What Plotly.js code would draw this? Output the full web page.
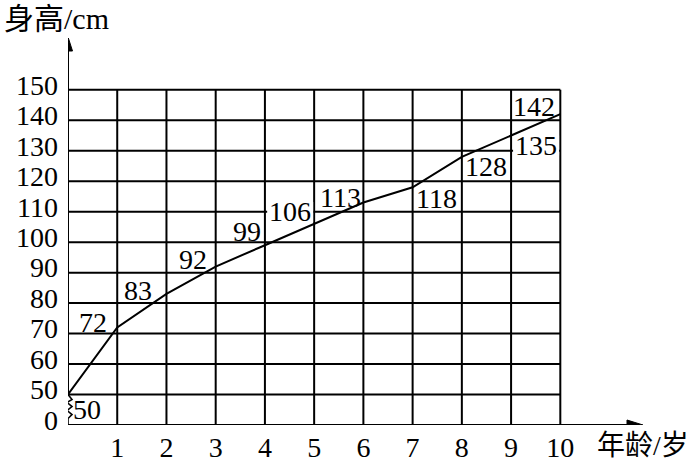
<!DOCTYPE html>
<html>
<head>
<meta charset="utf-8">
<script src="https://cdn.plot.ly/plotly-3.0.1.min.js"></script>
<style>html,body{margin:0;padding:0;background:#fff;}#chart{width:693px;height:466px;}</style>
</head>
<body>
<div id="chart"></div>
<script>
// ---- data ----
const ages = [0, 1, 2, 3, 4, 5, 6, 7, 8, 9, 10];
const heights = [50, 72, 83, 92, 99, 106, 113, 118, 128, 135, 142];
const xTickVals = [1, 2, 3, 4, 5, 6, 7, 8, 9, 10];
const xTickText = ['1', '2', '3', '4', '5', '6', '7', '8', '9', '10'];
const yTickVals = [40, 50, 60, 70, 80, 90, 100, 110, 120, 130, 140, 150];
const yTickText = ['0', '50', '60', '70', '80', '90', '100', '110', '120', '130', '140', '150'];
const xTitle = '年龄/岁';
const yTitle = '身高/cm';

// ---- label placement (pixel offsets from each point: right, down) and white masking ----
const labelOffsets = [[19, 15], [-24, -5], [-28, -3], [-23, -7], [-18, -14], [-24, -12],
                      [-23, -5], [24, 11], [24, 10], [25, 10], [-26, -8]];
const labelMask = [false, false, false, false, false, true, false, false, false, true, false];

// ---- layout geometry ----
const W = 693, H = 466;
const M = {l: 68, r: 49, t: 38, b: 41, pad: 0};
const xRange = [0, 11.7], yRange = [40, 167];
const pw = W - M.l - M.r, ph = H - M.t - M.b;
const dx = p => p / pw * (xRange[1] - xRange[0]);
const dy = p => p / ph * (yRange[1] - yRange[0]);
const serif = '"Liberation Serif", "Times New Roman", serif';
const cjk = '"Liberation Serif", "Noto Sans CJK SC", sans-serif';
const lw = 2;

const xMax = xTickVals[xTickVals.length - 1];
const yMin = yTickVals[1], yMax = yTickVals[yTickVals.length - 1];

const shapes = [];
// horizontal grid lines
yTickVals.slice(1).forEach(v => shapes.push({type: 'line', xref: 'x', yref: 'y', x0: 0, x1: xMax, y0: v, y1: v, line: {color: '#000', width: lw}, layer: 'below'}));
// vertical grid lines
xTickVals.forEach(v => shapes.push({type: 'line', xref: 'x', yref: 'y', x0: v, x1: v, y0: yRange[0], y1: yMax, line: {color: '#000', width: lw}, layer: 'below'}));
// white masks behind some labels (under the data line, over the grid)
heights.forEach((h, i) => {
  if (!labelMask[i]) return;
  const [ox, oy] = labelOffsets[i];
  shapes.push({type: 'rect', xref: 'x', yref: 'y', layer: 'below',
    x0: ages[i] + dx(ox - 23), x1: ages[i] + dx(ox + 23),
    y0: h - dy(oy + 10), y1: h - dy(oy - 10),
    fillcolor: '#fff', line: {width: 0}});
});
// y axis line
shapes.push({type: 'line', xref: 'x', yref: 'y', x0: 0, x1: 0, y0: yMin, y1: yRange[1] - dy(8), line: {color: '#000', width: lw}});
// x axis line
shapes.push({type: 'line', xref: 'x', yref: 'y', x0: 0, x1: xRange[1] - dx(8), y0: yRange[0], y1: yRange[0], line: {color: '#000', width: lw}});
// arrow heads
const yt = yRange[1] + dy(1);
shapes.push({type: 'path', xref: 'x', yref: 'y', path: `M0,${yt} L${-dx(4.5)},${yt - dy(14)} L${dx(4.5)},${yt - dy(14)} Z`, fillcolor: '#000', line: {color: '#000', width: 1}});
const xt = xRange[1] - dx(1);
shapes.push({type: 'path', xref: 'x', yref: 'y', path: `M${xt},${yRange[0]} L${xt - dx(16)},${yRange[0] + dy(5)} L${xt - dx(16)},${yRange[0] - dy(5)} Z`, fillcolor: '#000', line: {color: '#000', width: 1}});
// axis break zigzag (pixel offsets: right, down from the 50 mark)
const zig = [[0, 0], [4, 5], [-1, 8], [4, 12], [-1, 16], [4, 20], [0, 24], [0, 30]];
shapes.push({type: 'path', xref: 'x', yref: 'y',
  path: zig.map((p, i) => (i ? 'L' : 'M') + dx(p[0]) + ',' + (yMin - dy(p[1]))).join(' '),
  line: {color: '#000', width: 1.6}});

const annotations = heights.map((h, i) => ({
  x: ages[i], y: h, xref: 'x', yref: 'y', text: String(h), showarrow: false,
  xanchor: 'center', yanchor: 'middle',
  xshift: labelOffsets[i][0], yshift: -labelOffsets[i][1],
  borderpad: 0,
  font: {family: serif, size: 28, color: '#000'}
}));
annotations.push({xref: 'paper', yref: 'paper', x: (2 - M.l) / pw, y: (H - M.b) / ph,
  xanchor: 'left', yanchor: 'top', text: yTitle, showarrow: false,
  font: {family: cjk, size: 30, color: '#000'}});
annotations.push({xref: 'paper', yref: 'paper', x: (595 - M.l) / pw, y: (H - M.b - 445) / ph,
  xanchor: 'left', yanchor: 'middle', text: xTitle, showarrow: false,
  font: {family: cjk, size: 28, color: '#000'}});

const trace = {
  x: ages, y: heights, type: 'scatter', mode: 'lines',
  line: {color: '#000', width: lw}, cliponaxis: false, hoverinfo: 'skip'
};

const layout = {
  width: W, height: H, margin: M,
  paper_bgcolor: '#fff', plot_bgcolor: '#fff', showlegend: false,
  xaxis: {range: xRange, showgrid: false, zeroline: false, showline: false, ticks: '',
    tickmode: 'array', tickvals: xTickVals, ticktext: xTickText, ticklabelstandoff: 3,
    tickfont: {family: serif, size: 28, color: '#000'}, fixedrange: true},
  yaxis: {range: yRange, showgrid: false, zeroline: false, showline: false, ticks: '',
    tickmode: 'array', tickvals: yTickVals, ticktext: yTickText, ticklabelstandoff: 9,
    ticklabelshift: -5,
    tickfont: {family: serif, size: 28, color: '#000'}, fixedrange: true},
  shapes: shapes, annotations: annotations
};

Plotly.newPlot('chart', [trace], layout, {displayModeBar: false, staticPlot: true});
</script>
</body>
</html>
